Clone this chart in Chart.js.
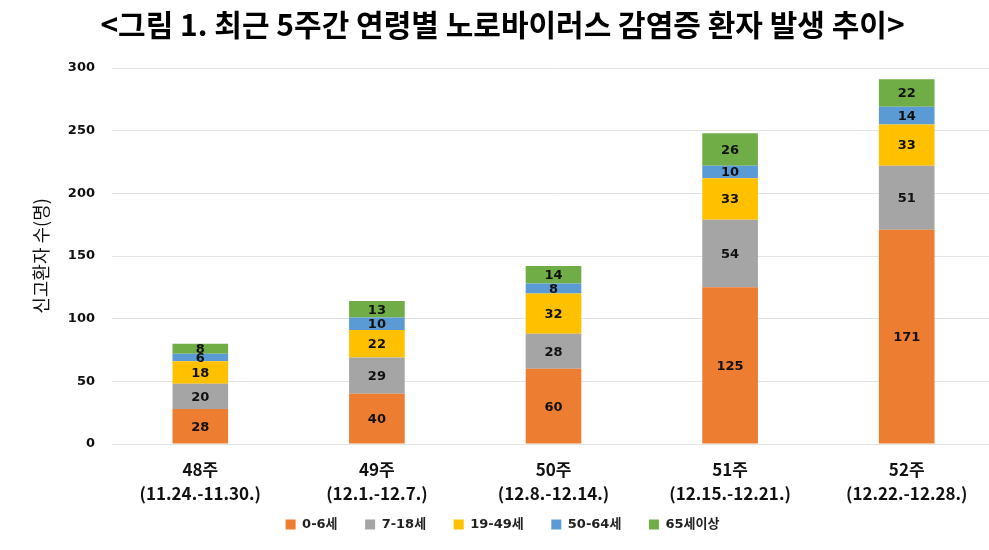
<!DOCTYPE html>
<html>
<head>
<meta charset="utf-8">
<script src="https://cdn.jsdelivr.net/npm/chart.js@4"></script>
<style>
  body { margin: 0; background: #fff; overflow: hidden; }
  #wrap { width: 1000px; height: 550px; }
</style>
</head>
<body>
<div id="wrap"><canvas id="chart"></canvas></div>
<script>
const weeks = ["48주", "49주", "50주", "51주", "52주"];
const periods = ["(11.24.-11.30.)", "(12.1.-12.7.)", "(12.8.-12.14.)", "(12.15.-12.21.)", "(12.22.-12.28.)"];
const age0to6 = [28, 40, 60, 125, 171];
const age7to18 = [20, 29, 28, 54, 51];
const age19to49 = [18, 22, 32, 33, 33];
const age50to64 = [6, 10, 8, 10, 14];
const age65plus = [8, 13, 14, 26, 22];
const yTicks = [0, 50, 100, 150, 200, 250, 300];

const krFont = "'Noto Sans CJK KR', 'Noto Sans', sans-serif";
const numFont = "'DejaVu Sans', 'Noto Sans CJK KR', sans-serif";

// draws the value in the middle of each bar segment
const segmentLabels = {
  id: "segmentLabels",
  afterDatasetsDraw(chart) {
    const ctx = chart.ctx;
    ctx.save();
    ctx.font = "bold 13px " + numFont;
    ctx.fillStyle = "#111";
    ctx.textAlign = "center";
    ctx.textBaseline = "middle";
    chart.data.datasets.forEach((ds, i) => {
      chart.getDatasetMeta(i).data.forEach((bar, j) => {
        const mid = (bar.y + bar.base) / 2;
        ctx.fillText(ds.data[j], bar.x, mid + 1);
      });
    });
    ctx.restore();
  },
};

const labels = weeks.map((w, i) => [w, periods[i]]);

new Chart(document.getElementById("chart").getContext("2d"), {
  type: "bar",
  data: {
    labels: labels,
    datasets: [
      { label: "0-6세", data: age0to6, backgroundColor: "#ED7D31" },
      { label: "7-18세", data: age7to18, backgroundColor: "#A5A5A5" },
      { label: "19-49세", data: age19to49, backgroundColor: "#FFC000" },
      { label: "50-64세", data: age50to64, backgroundColor: "#5B9BD5" },
      { label: "65세이상", data: age65plus, backgroundColor: "#70AD47" },
    ],
  },
  options: {
    responsive: true,
    maintainAspectRatio: false,
    animation: false,
    layout: { padding: { left: 10, right: 5, top: 0, bottom: 9 } },
    datasets: { bar: { categoryPercentage: 1, barPercentage: 0.315 } },
    plugins: {
      title: {
        display: true,
        text: "<그림 1. 최근 5주간 연령별 노로바이러스 감염증 환자 발생 추이>",
        color: "#000",
        font: { family: krFont, size: 30, weight: "bold" },
        padding: { top: 7, bottom: 25 },
      },
      legend: {
        position: "bottom",
        labels: {
          color: "#222",
          boxWidth: 10,
          boxHeight: 10,
          padding: 14,
          font: { family: numFont, size: 13, weight: "bold" },
          generateLabels: (chart) => {
            const items = Chart.defaults.plugins.legend.labels.generateLabels(chart);
            items.forEach((it, i) => { if (i < items.length - 1) it.text += "   "; });
            return items;
          },
        },
      },
      tooltip: { enabled: false },
    },
    scales: {
      x: {
        stacked: true,
        grid: { display: false },
        border: { display: false },
        afterFit: (axis) => { axis.height = 60; },
        ticks: {
          color: "#111",
          padding: 5,
          font: { family: krFont, size: 17, weight: "bold", lineHeight: 1.45 },
        },
      },
      y: {
        stacked: true,
        min: 0,
        max: 300,
        afterBuildTicks: (axis) => { axis.ticks = yTicks.map((v) => ({ value: v })); },
        afterFit: (axis) => { axis.width = 102; },
        grid: { color: "#e3e3e3", drawTicks: false },
        border: { display: false },
        ticks: {
          color: "#111",
          padding: 17,
          font: { family: numFont, size: 13, weight: "bold" },
        },
        title: {
          display: true,
          text: "신고환자 수(명)",
          color: "#111",
          padding: { top: 20, bottom: 0 },
          font: { family: krFont, size: 18 },
        },
      },
    },
  },
  plugins: [segmentLabels],
});
</script>
</body>
</html>
